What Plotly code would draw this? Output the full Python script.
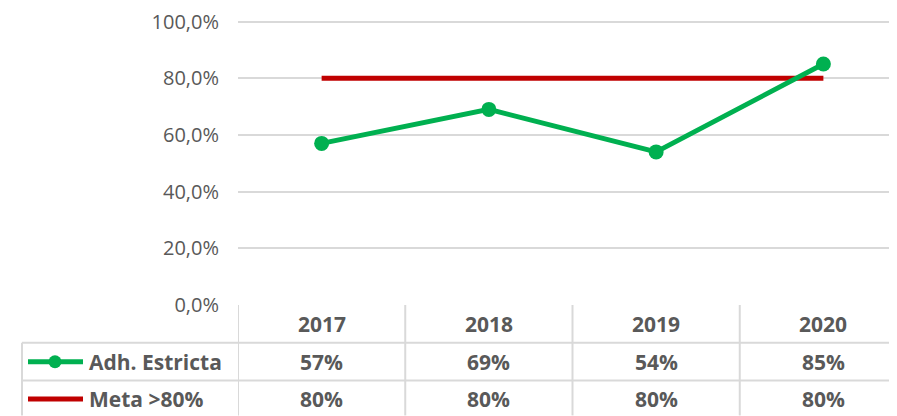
import plotly.graph_objects as go

# data
years = ["2017", "2018", "2019", "2020"]
adh_estricta = [0.57, 0.69, 0.54, 0.85]
meta = [0.80, 0.80, 0.80, 0.80]
series_names = ["Adh. Estricta", "Meta >80%"]
y_ticks = [0.0, 0.2, 0.4, 0.6, 0.8, 1.0]
y_tick_text = ["0,0%", "20,0%", "40,0%", "60,0%", "80,0%", "100,0%"]

GREEN = "#00b050"
RED = "#c00000"
TEXT = "#595959"
GRID = "#d9d9d9"
FONT = "'Open Sans', Lato, sans-serif"

# the page puts the figure 8px in from the top-left corner of the window
OFF = 8
WIN_W, WIN_H = 897, 416
W, H = WIN_W - OFF, WIN_H - OFF
PX_PER_UNIT = 285               # 0% -> 100% spans 285px in the reference
Y_MAX = 1.03                    # a bit of headroom so the 100% tick is kept
PLOT_X0, PLOT_X1 = 238, 897     # plot area in window pixels
PLOT_Y1 = 305
PLOT_Y0 = PLOT_Y1 - PX_PER_UNIT * Y_MAX
L, T = PLOT_X0 - OFF, PLOT_Y0 - OFF
PLOT_W = PLOT_X1 - PLOT_X0
PLOT_H = PLOT_Y1 - PLOT_Y0
B = H - T - PLOT_H


# window pixel -> paper helpers (only for the table under the chart)
def px(x):
    return (x - PLOT_X0) / PLOT_W


def py(y):
    return (PLOT_Y1 - y) / PLOT_H


fig = go.Figure()
fig.add_trace(go.Scatter(x=years, y=meta, name=series_names[1], mode="lines",
                         line=dict(color=RED, width=5)))
fig.add_trace(go.Scatter(x=years, y=adh_estricta, name=series_names[0],
                         mode="lines+markers",
                         line=dict(color=GREEN, width=5),
                         marker=dict(color=GREEN, size=15)))

col_w = 167
fig.update_layout(
    width=W, height=H,
    margin=dict(l=L, r=0, t=T, b=B, pad=0),
    paper_bgcolor="white", plot_bgcolor="white",
    showlegend=False,
    font=dict(family=FONT, color=TEXT),
    xaxis=dict(type="category", range=[-0.5, 3.5 - 10 / col_w],
               showticklabels=False, showgrid=False, zeroline=False,
               showline=False, ticks=""),
    yaxis=dict(range=[0, Y_MAX], tickvals=y_ticks, ticktext=y_tick_text,
               tickfont=dict(size=20, color=TEXT), showgrid=True,
               gridcolor=GRID, gridwidth=1.5, zeroline=False,
               showline=False, ticks="", ticklabelstandoff=18,
               ticklabeloverflow="allow"),
)

# data table under the plot
row_top, row1, row2, row_bot = 305, 343, 381, 418
line = dict(color=GRID, width=2)
shapes = []
for yy in [row1, row2]:
    shapes.append(dict(type="line", xref="paper", yref="paper",
                       x0=px(22), x1=px(WIN_W), y0=py(yy), y1=py(yy), line=line))
shapes.append(dict(type="line", xref="paper", yref="paper",
                   x0=px(22), x1=px(22), y0=py(row1), y1=py(WIN_H), line=line))
for i in range(len(years)):
    shapes.append(dict(type="line", xref="x", yref="paper",
                       x0=i - 0.5, x1=i - 0.5, y0=py(row_top), y1=py(WIN_H),
                       line=line))

# legend keys inside the table
key_x0, key_x1 = 28, 83
for yy, col in [((row1 + row2) / 2, GREEN), ((row2 + row_bot) / 2, RED)]:
    shapes.append(dict(type="line", xref="paper", yref="paper",
                       x0=px(key_x0), x1=px(key_x1), y0=py(yy), y1=py(yy),
                       line=dict(color=col, width=5)))
gy = (row1 + row2) / 2
shapes.append(dict(type="circle", xref="paper", yref="paper",
                   x0=px(55 - 6.5), x1=px(55 + 6.5), y0=py(gy - 6.5), y1=py(gy + 6.5),
                   fillcolor=GREEN, line=dict(color=GREEN, width=0)))
fig.update_layout(shapes=shapes)

cell_font = dict(family=FONT, size=21, color=TEXT)
rows = [(years, (row_top + row1) / 2),
        ([f"{v:.0%}" for v in adh_estricta], (row1 + row2) / 2),
        ([f"{v:.0%}" for v in meta], (row2 + row_bot) / 2)]
for labels, yy in rows:
    for i, lab in enumerate(labels):
        fig.add_annotation(x=i, y=py(yy), xref="x", yref="paper", text=f"<b>{lab}</b>",
                           showarrow=False, font=cell_font,
                           xanchor="center", yanchor="middle")
for name, yy in zip(series_names, [(row1 + row2) / 2, (row2 + row_bot) / 2]):
    fig.add_annotation(x=px(87), y=py(yy), xref="paper", yref="paper",
                       text=f"<b>{name}</b>", showarrow=False, font=cell_font,
                       xanchor="left", yanchor="middle")

fig.write_html("out.html")
